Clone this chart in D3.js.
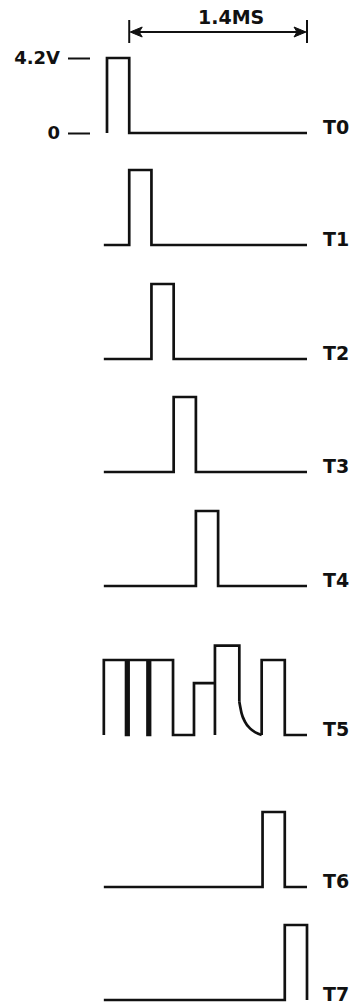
<!DOCTYPE html>
<html>
<head>
<meta charset="utf-8">
<script src="https://cdn.jsdelivr.net/npm/d3@7"></script>
<style>
  html, body { margin: 0; padding: 0; background: #fff; }
  svg { display: block; }
  text { font-family: "DejaVu Sans", sans-serif; font-weight: bold; fill: #111; }
</style>
</head>
<body>
<svg id="chart" width="356" height="1008"></svg>
<script>
// data
var rowLabels = ['T0', 'T1', 'T2', 'T3', 'T4', 'T5', 'T6', 'T7'];
var pulseSlots = [0, 1, 2, 3, 4, null, 7, 8];   // slot index of the single pulse, null = irregular row
var slotMs = 0.175;
var spanMs = 1.4;
var pulseVolts = 4.2;
var levelTicks = [0, 4.2];
var levelLabels = ['0', '4.2V'];
var spanLabel = '1.4MS';

// T5 irregular waveform [ms, volts]
var t5Before = [[-0.025, 0], [-0.025, 4.2], [0.15, 4.2], [0.15, 0], [0.17, 0], [0.17, 4.2],
  [0.319, 4.2], [0.319, 0], [0.339, 0], [0.339, 4.2], [0.52, 4.2], [0.52, 0], [0.685, 0],
  [0.685, 2.9], [0.85, 2.9], [0.85, 0], [0.85, 5.0], [1.042, 5.0], [1.042, 1.86]];
var t5Decay = [[1.042, 1.86], [1.06, 1.21], [1.087, 0.74], [1.126, 0.37], [1.173, 0.13], [1.218, 0]];
var t5After = [[1.218, 0], [1.218, 4.2], [1.4, 4.2], [1.4, 0], [1.575, 0]];

// layout
var rowBaseY = [133, 245, 359, 472, 586, 735, 887, 1000];
var pxPerVolt = 75 / 4.2;
var endMs = slotMs + spanMs;

var svg = d3.select('#chart');

var x = d3.scaleLinear().domain([0, endMs]).range([107, 307]);

function yScale(i) {
  return d3.scaleLinear().domain([0, pulseVolts]).range([rowBaseY[i], rowBaseY[i] - pulseVolts * pxPerVolt]);
}

function pulsePoints(k) {
  var pts = [];
  var t0 = k * slotMs, t1 = (k + 1) * slotMs;
  if (k === 0) {
    pts.push([t0, 0]);
  } else {
    pts.push([-0.025, 0], [t0, 0]);
  }
  pts.push([t0, pulseVolts], [t1, pulseVolts], [t1, 0]);
  if (t1 < endMs - 1e-6) pts.push([endMs, 0]);
  return pts;
}

rowLabels.forEach(function(label, i) {
  var y = yScale(i);
  var line = d3.line().x(function(d) { return x(d[0]); }).y(function(d) { return y(d[1]); });
  var g = svg.append('g').attr('class', 'row');

  if (pulseSlots[i] !== null) {
    g.append('path').attr('d', line(pulsePoints(pulseSlots[i])));
  } else {
    g.append('path').attr('d', line(t5Before));
    g.append('path').attr('d', line.curve(d3.curveMonotoneX)(t5Decay));
    line.curve(d3.curveLinear);
    g.append('path').attr('d', line(t5After));
  }

  g.selectAll('path')
    .attr('fill', 'none')
    .attr('stroke', '#111')
    .attr('stroke-width', 2.7)
    .attr('stroke-linejoin', 'miter');

  g.append('text')
    .attr('x', 323)
    .attr('y', rowBaseY[i] + 1)
    .attr('font-size', '19px')
    .text(label);
});

// level axis for T0
var levelAxis = d3.axisLeft(yScale(0))
  .tickValues(levelTicks)
  .tickSize(22)
  .tickPadding(8)
  .tickFormat(function(d, i) { return levelLabels[i]; });

var ax = svg.append('g')
  .attr('transform', 'translate(90,0)')
  .call(levelAxis);
ax.select('.domain').remove();
ax.selectAll('line').attr('stroke', '#111').attr('stroke-width', 2);
ax.selectAll('text')
  .attr('font-family', '"DejaVu Sans", sans-serif')
  .attr('font-weight', 'bold')
  .attr('font-size', '18px')
  .attr('fill', '#111');

// span dimension arrow
var ax0 = x(slotMs), ax1 = x(endMs), ay = 32;
var dim = svg.append('g').attr('stroke', '#111').attr('stroke-width', 2).attr('fill', 'none');
dim.append('line').attr('x1', ax0).attr('x2', ax0).attr('y1', 20).attr('y2', 43);
dim.append('line').attr('x1', ax1).attr('x2', ax1).attr('y1', 20).attr('y2', 43);
dim.append('line').attr('x1', ax0 + 2).attr('x2', ax1 - 2).attr('y1', ay).attr('y2', ay);

dim.append('path')
  .attr('fill', '#111')
  .attr('stroke-width', 1)
  .attr('d', 'M' + (ax0 + 1) + ',' + ay + 'L' + (ax0 + 13) + ',' + (ay - 5) + 'L' + (ax0 + 10) + ',' + ay + 'L' + (ax0 + 13) + ',' + (ay + 5) + 'Z');
dim.append('path')
  .attr('fill', '#111')
  .attr('stroke-width', 1)
  .attr('d', 'M' + (ax1 - 1) + ',' + ay + 'L' + (ax1 - 13) + ',' + (ay - 5) + 'L' + (ax1 - 10) + ',' + ay + 'L' + (ax1 - 13) + ',' + (ay + 5) + 'Z');

svg.append('text')
  .attr('x', x(slotMs + spanMs / 2) + 13)
  .attr('y', 24)
  .attr('text-anchor', 'middle')
  .attr('font-size', '19px')
  .text(spanLabel);
</script>
</body>
</html>
